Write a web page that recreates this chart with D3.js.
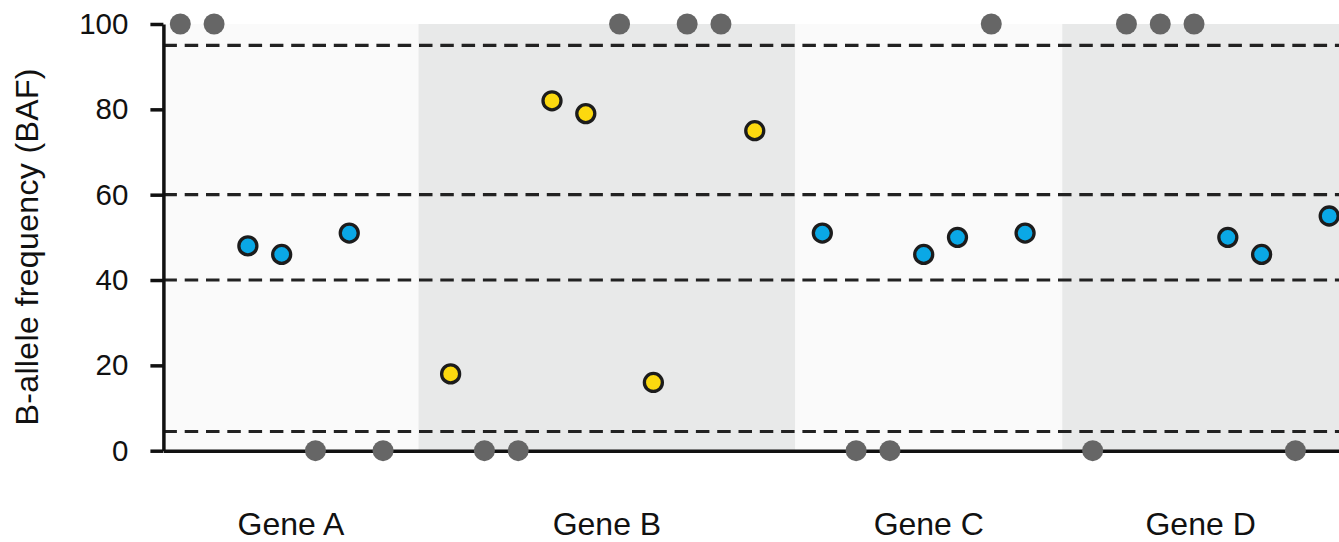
<!DOCTYPE html>
<html>
<head>
<meta charset="utf-8">
<script src="https://cdn.jsdelivr.net/npm/d3@7"></script>
<style>
  body { margin: 0; background: #fff; }
  text { font-family: "Liberation Sans", Arial, sans-serif; fill: #111; }
</style>
</head>
<body>
<div id="chart"></div>
<script>
const genes = ["Gene A", "Gene B", "Gene C", "Gene D"];
const geneStart = [-0.5, 7.05, 18.2, 26.1];
const geneEnd = [7.05, 18.2, 26.1, 34.3];
const yTicks = [0, 20, 40, 60, 80, 100];
const cutoffs = [95, 60, 40, 4.5];

// heterozygous SNPs (blue)
const hetPos = [2, 3, 5, 19, 22, 23, 25, 31, 32, 34];
const hetBAF = [48, 46, 51, 51, 46, 50, 51, 50, 46, 55];
// allelic imbalance (yellow)
const imbPos = [8, 11, 12, 14, 17];
const imbBAF = [18, 82, 79, 16, 75];
// homozygous (grey)
const homPos = [0, 1, 13, 15, 16, 24, 28, 29, 30, 4, 6, 9, 10, 20, 21, 27, 33];
const homBAF = [100, 100, 100, 100, 100, 100, 100, 100, 100, 0, 0, 0, 0, 0, 0, 0, 0];

const width = 1339;
const height = 542;
const margin = { top: 24, bottom: 91.3, left: 163.4, right: 0 };

const svg = d3
  .select("#chart")
  .append("svg")
  .attr("width", width)
  .attr("height", height);

const x = d3
  .scaleLinear()
  .domain([-0.5, 34.29])
  .range([margin.left, width - margin.right]);
const y = d3
  .scaleLinear()
  .domain([0, 100])
  .range([height - margin.bottom, margin.top]);

// gene shading
svg
  .append("g")
  .selectAll("rect")
  .data(genes)
  .enter()
  .append("rect")
  .attr("x", (d, i) => x(geneStart[i]))
  .attr("width", (d, i) => x(geneEnd[i]) - x(geneStart[i]))
  .attr("y", y(100))
  .attr("height", y(0) - y(100))
  .attr("fill", (d, i) => (i % 2 ? "#e8e9e9" : "#fafafa"));

// cutoff lines
svg
  .append("g")
  .selectAll("line")
  .data(cutoffs)
  .enter()
  .append("line")
  .attr("x1", x(-0.5))
  .attr("x2", width)
  .attr("y1", d => y(d))
  .attr("y2", d => y(d))
  .attr("stroke", "#222")
  .attr("stroke-width", 3.2)
  .attr("stroke-dasharray", "13.5,7.8");

// axes
const yAxis = svg
  .append("g")
  .attr("transform", `translate(${margin.left}, 0)`)
  .call(
    d3.axisLeft(y).tickValues(yTicks).tickSize(13).tickSizeOuter(0).tickPadding(22)
  );
yAxis.select(".domain").attr("stroke", "#111").attr("stroke-width", 3.5);
yAxis.selectAll(".tick line").attr("stroke", "#111").attr("stroke-width", 3.5);
yAxis
  .selectAll(".tick text")
  .attr("font-size", 29.5)
  .attr("font-family", "Liberation Sans, Arial, sans-serif")
  .attr("fill", "#111");

const xAxis = svg
  .append("g")
  .attr("transform", `translate(0, ${y(0)})`)
  .call(d3.axisBottom(x).tickValues([]).tickSizeOuter(0));
xAxis.select(".domain").attr("stroke", "#111").attr("stroke-width", 3.5);

// gene labels
svg
  .append("g")
  .selectAll("text")
  .data(genes)
  .enter()
  .append("text")
  .attr("x", (d, i) => (x(geneStart[i]) + x(Math.min(geneEnd[i], 34.29))) / 2)
  .attr("y", 535)
  .attr("text-anchor", "middle")
  .attr("font-size", 32)
  .text(d => d);

// y label
svg
  .append("text")
  .attr("transform", "translate(38, 247) rotate(-90)")
  .attr("text-anchor", "middle")
  .attr("font-size", 32)
  .attr("textLength", 357)
  .attr("lengthAdjust", "spacing")
  .text("B-allele frequency (BAF)");

// points
svg
  .append("g")
  .selectAll("circle")
  .data(homPos)
  .enter()
  .append("circle")
  .attr("cx", d => x(d))
  .attr("cy", (d, i) => y(homBAF[i]))
  .attr("r", 10.5)
  .attr("fill", "#666");

svg
  .append("g")
  .selectAll("circle")
  .data(imbPos)
  .enter()
  .append("circle")
  .attr("cx", d => x(d))
  .attr("cy", (d, i) => y(imbBAF[i]))
  .attr("r", 9)
  .attr("fill", "#fcd90f")
  .attr("stroke", "#1c1c1c")
  .attr("stroke-width", 3.3);

svg
  .append("g")
  .selectAll("circle")
  .data(hetPos)
  .enter()
  .append("circle")
  .attr("cx", d => x(d))
  .attr("cy", (d, i) => y(hetBAF[i]))
  .attr("r", 9)
  .attr("fill", "#0aa8e6")
  .attr("stroke", "#1c1c1c")
  .attr("stroke-width", 3.3);
</script>
</body>
</html>
